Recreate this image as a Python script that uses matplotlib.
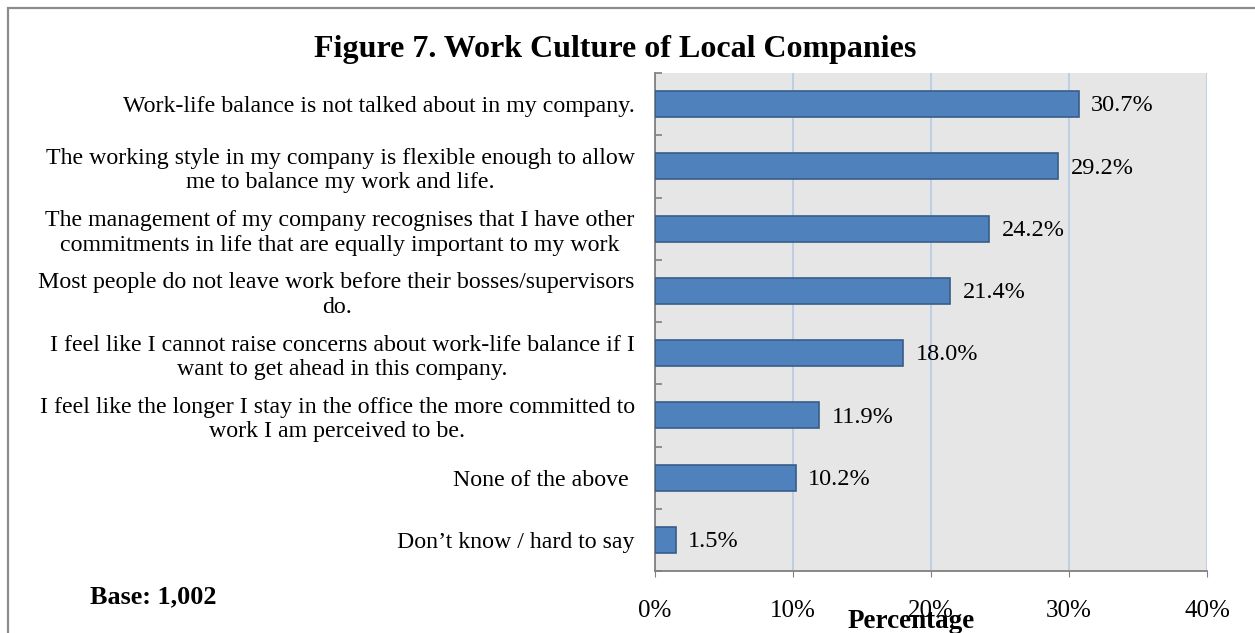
import matplotlib
matplotlib.use("Agg")
import matplotlib.pyplot as plt
from matplotlib.patches import Rectangle
from matplotlib.ticker import FixedLocator, PercentFormatter

plt.rcParams['font.family'] = ['Liberation Serif', 'DejaVu Serif']

categories = [
    "Work-life balance is not talked about in my company.",
    "The working style in my company is flexible enough to allow\nme to balance my work and life.",
    "The management of my company recognises that I have other\ncommitments in life that are equally important to my work",
    "Most people do not leave work before their bosses/supervisors\ndo.",
    "I feel like I cannot raise concerns about work-life balance if I\nwant to get ahead in this company.",
    "I feel like the longer I stay in the office the more committed to\nwork I am perceived to be.",
    "None of the above ",
    "Don\u2019t know / hard to say",
]
values = [30.7, 29.2, 24.2, 21.4, 18.0, 11.9, 10.2, 1.5]
x_ticks = [0, 10, 20, 30, 40]

W, H = 1255, 633
fig = plt.figure(figsize=(W / 100, H / 100), dpi=100)

# outer frame
fig.patches.append(Rectangle((8 / W, -0.1), 1.2, 1 - 8 / H + 0.1, transform=fig.transFigure,
                             fill=False, edgecolor='#8c8c8c', linewidth=1.6))

ax_l, ax_r, ax_t, ax_b = 655, 1207, 73, 571
ax = fig.add_axes([ax_l / W, 1 - ax_b / H, (ax_r - ax_l) / W, (ax_b - ax_t) / H])
ax.set_facecolor('#e6e6e6')

n = len(categories)
ypos = list(range(n))
ax.barh(ypos, values, height=0.42, color='#4f81bd', edgecolor='#385d8a', linewidth=1.2, zorder=3)
ax.set_ylim(n - 0.5, -0.5)
ax.set_xlim(0, 40)

for y, v in zip(ypos, values):
    ax.text(v + 0.9, y + 0.03, f"{v:.1f}%", va='center', ha='left', fontsize=17.5, zorder=4)

ax.xaxis.set_major_locator(FixedLocator(x_ticks))
ax.xaxis.set_major_formatter(PercentFormatter(decimals=0))
ax.tick_params(axis='x', labelsize=18, pad=17, length=4, color='#808080', direction='out')
ax.grid(axis='x', color='#b9cde5', linewidth=1.3, zorder=1)

ax.set_yticks(ypos)
ax.set_yticklabels(categories, fontsize=17.2, multialignment='center', linespacing=1.22)
ax.tick_params(axis='y', which='major', length=0, pad=14.5)
ax.set_yticks([i + 0.5 for i in range(-1, n)], minor=True)
ax.tick_params(axis='y', which='minor', length=5, direction='in', color='#808080', width=1.2)

for s in ['top', 'right']:
    ax.spines[s].set_visible(False)
for s in ['left', 'bottom']:
    ax.spines[s].set_color('#808080')
    ax.spines[s].set_linewidth(1.3)

fig.text(615 / W, 1 - 50 / H, "Figure 7. Work Culture of Local Companies", ha='center', va='center',
         fontsize=23, fontweight='bold')
fig.text(90 / W, 1 - 597 / H, "Base: 1,002", ha='left', va='center', fontsize=18.8, fontweight='bold')
fig.text(911 / W, 1 - 621 / H, "Percentage", ha='center', va='center', fontsize=19.5, fontweight='bold')

fig.savefig("out.png", dpi=100)
